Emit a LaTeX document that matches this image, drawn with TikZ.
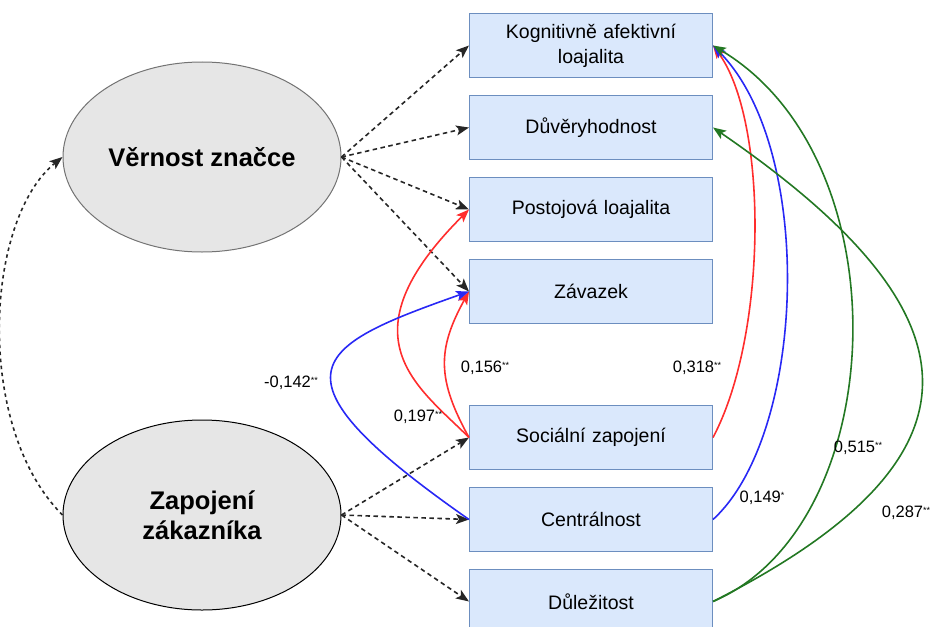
\documentclass[tikz,border=0pt]{standalone}
\usepackage{fontspec}
\setmainfont{Liberation Sans}
\usetikzlibrary{calc}
\usetikzlibrary{positioning}
\usetikzlibrary{arrows.meta}
\usetikzlibrary{shapes.geometric}

\definecolor{boxfill}{HTML}{DAE8FC}
\definecolor{boxline}{HTML}{6C8EBF}
\definecolor{elfill}{HTML}{E6E6E6}
\definecolor{cred}{RGB}{255,45,45}
\definecolor{cblue}{RGB}{40,40,245}
\definecolor{cgreen}{RGB}{35,120,35}

\newcommand{\stars}[1]{\raisebox{0.45ex}{\fontsize{9}{9}\selectfont #1}}

\begin{document}
\begin{tikzpicture}[x=1pt,y=-1pt]
      \tikzset{rblock/.style={draw=boxline, fill=boxfill, line width=1pt, font=\fontsize{19.5}{25}\selectfont,
        align=center, text width=230pt, minimum width=243pt, minimum height=64pt, inner sep=0pt}};
      \tikzset{latent/.style={ellipse, draw, fill=elfill, line width=1pt, minimum width=278pt,
        minimum height=190pt, inner sep=0pt, align=center, font=\fontsize{25.5}{30}\selectfont\bfseries}};
      \tikzset{load/.style={draw=black!85, dashed, dash pattern=on 4.5pt off 3.5pt, line width=1.6pt,
        -{Stealth[length=13pt,width=10pt,inset=3pt]}}};
      \tikzset{corr/.style={line width=1.6pt, -{Stealth[length=13pt,width=10pt,inset=3pt]}}};
      \tikzset{coef/.style={font=\fontsize{16.5}{18}\selectfont, inner sep=0pt}};
      \useasboundingbox (0,0) rectangle (936,626);

      \node[latent, draw=black!55](vern) at (202,157){Věrnost značce};
      \node[latent](zapoj) at (202,515){Zapojení\\zákazníka};

      \node[rblock](kogn) at (591,45.5){Kognitivně afektivní\\loajalita};
      \node[rblock, below = 17pt of kogn](duver){Důvěryhodnost};
      \node[rblock, below = 17pt of duver](postoj){Postojová loajalita};
      \node[rblock, below = 17pt of postoj](zavaz){Závazek};
      \node[rblock, below = 81pt of zavaz](social){Sociální zapojení};
      \node[rblock, below = 17pt of social](central){Centrálnost};
      \node[rblock, below = 17pt of central](dulez){Důležitost};

      % dashed loadings
      \draw[load] (vern.east) -- (kogn.west);
      \draw[load] (vern.east) -- (duver.west);
      \draw[load] (vern.east) -- (postoj.west);
      \draw[load] (vern.east) -- (zavaz.west);
      \draw[load] (zapoj.east) -- (social.west);
      \draw[load] (zapoj.east) -- (central.west);
      \draw[load] (zapoj.east) -- (dulez.west);

      % left dotted curve
      \draw[load, dash pattern=on 3.5pt off 3.5pt] (zapoj.west)
        .. controls ($(zapoj.west)+(-88,-88)$) and ($(vern.west)+(-78,63)$) .. (vern.west);

      % inner curves on the left
      \draw[corr, cred] (social.west)
        .. controls ($(social.west)+(-51,-51)$) and ($(postoj.west)+(-128,128)$) .. (postoj.west);
      \draw[corr, cred] (social.west)
        .. controls ($(social.west)+(-32,-58)$) and ($(zavaz.west)+(-32,58)$) .. (zavaz.west);
      \draw[corr, cblue] (central.west)
        .. controls ($(central.west)+(-209,-146)$) and ($(zavaz.west)+(-156,55)$) .. (zavaz.west);

      % outer curves on the right
      \draw[corr, cred] (social.east)
        .. controls ($(social.east)+(55,-104)$) and ($(kogn.east)+(55,75)$) .. (kogn.east);
      \draw[corr, cblue] (central.east)
        .. controls ($(central.east)+(93,-85)$) and ($(kogn.east)+(103,105)$) .. (kogn.east);
      \draw[corr, cgreen] (dulez.east)
        .. controls ($(dulez.east)+(178,-76)$) and ($(kogn.east)+(192,115)$) .. (kogn.east);
      \draw[corr, cgreen] (dulez.east)
        .. controls ($(dulez.east)+(288,-146)$) and ($(duver.east)+(268,184)$) .. (duver.east);

      % coefficients
      \node[coef](c197) at (418,417){0,197\stars{**}};
      \node[coef](c156) at (485,368){0,156\stars{**}};
      \node[coef](c142) at (291,383){-0,142\stars{**}};
      \node[coef](c318) at (697,368){0,318\stars{**}};
      \node[coef](c149) at (762,498){0,149\stars{*}};
      \node[coef](c515) at (858,448){0,515\stars{**}};
      \node[coef](c287) at (906,513){0,287\stars{**}};
    \end{tikzpicture}
\end{document}
